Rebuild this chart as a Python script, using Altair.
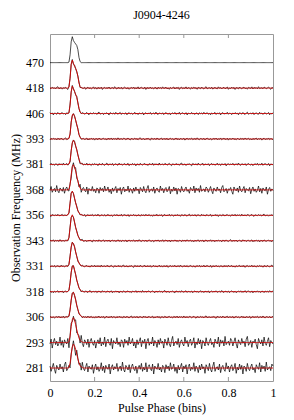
import altair as alt
import pandas as pd

FREQS = [281, 293, 306, 318, 331, 343, 356, 368, 381, 393, 406, 418, 470]
PEAKS = [0.94, 0.98, 0.98, 1.02, 0.94, 1.02, 0.95, 0.99, 0.95, 0.99, 1.08, 1.10, 1.02]
NOISE_AMP = [0.026, 0.027, 0.005, 0.005, 0.005, 0.005, 0.005, 0.019, 0.006, 0.005, 0.006, 0.006, 0.0]
NOISE_OFF = [0, 37, 74, 111, 148, 185, 22, 59, 96, 133, 170, 7, 0]
HAS_MODEL = [True] * 12 + [False]

SHAPE_START = 14  # first bin of the pulse window (phase 0.07)
SHAPES = [
    [0, 0, 0, 0.03, 0.2, 0.55, 0.88, 1.0, 0.93, 0.78, 0.58, 0.38, 0.21, 0.1, 0.05, 0.02, 0],
    [0, 0, 0, 0.04, 0.25, 0.65, 0.92, 1.0, 0.9, 0.72, 0.52, 0.34, 0.19, 0.09, 0.04, 0.02, 0],
    [0, 0, 0.01, 0.05, 0.28, 0.7, 0.95, 1.0, 0.88, 0.68, 0.48, 0.3, 0.16, 0.08, 0.03, 0.01, 0],
    [0, 0, 0.01, 0.06, 0.32, 0.75, 0.98, 1.0, 0.85, 0.65, 0.45, 0.28, 0.15, 0.07, 0.03, 0.01, 0],
    [0, 0, 0.01, 0.08, 0.4, 0.82, 1.0, 0.95, 0.8, 0.6, 0.4, 0.25, 0.13, 0.06, 0.03, 0.01, 0],
    [0, 0, 0.02, 0.12, 0.5, 0.9, 1.0, 0.9, 0.72, 0.52, 0.35, 0.21, 0.11, 0.05, 0.02, 0.01, 0],
    [0, 0, 0.02, 0.12, 0.5, 0.9, 1.0, 0.9, 0.72, 0.52, 0.34, 0.2, 0.1, 0.05, 0.02, 0.01, 0],
    [0, 0, 0, 0.03, 0.2, 0.6, 0.92, 1.0, 0.9, 0.75, 0.55, 0.35, 0.18, 0.07, 0.02, 0, 0],
    [0, 0, 0, 0.02, 0.15, 0.55, 0.9, 1.0, 0.92, 0.78, 0.6, 0.4, 0.2, 0.08, 0.03, 0.01, 0],
    [0, 0, 0, 0.02, 0.2, 0.65, 0.95, 1.0, 0.9, 0.75, 0.58, 0.38, 0.18, 0.06, 0.02, 0, 0],
    [0, 0, 0, 0.03, 0.3, 0.8, 1.0, 0.9, 0.8, 0.7, 0.58, 0.4, 0.18, 0.05, 0.01, 0, 0],
    [0, 0, 0, 0.03, 0.35, 0.85, 1.0, 0.88, 0.78, 0.7, 0.6, 0.42, 0.18, 0.05, 0.01, 0, 0],
    [0, 0, 0, 0.02, 0.3, 0.8, 1.0, 0.85, 0.78, 0.72, 0.66, 0.5, 0.2, 0.04, 0, 0, 0],
]

NOISE = [
    3, -5, 1, 7, -2, -8, 4, 0, -3, 6, -1, 2, -6, 5, 9, -4, -1, 3, -7, 2,
    0, 5, -3, -9, 6, 1, -2, 4, -5, 8, -1, -4, 2, 7, -6, 3, 0, -2, 5, -8,
    1, 6, -3, 2, -5, -1, 8, -4, 3, -7, 4, 0, -2, 6, -9, 1, 5, -3, 2, -1,
    7, -5, 0, 3, -4, 9, -2, -6, 4, 1, -3, 5, -7, 2, 6, -1, -4, 3, -8, 0,
    4, -2, 7, -5, 1, -3, 8, -6, 2, 5, -1, -4, 6, -9, 3, 0, -2, 7, -3, 1,
    -6, 4, 2, -7, 5, -1, 3, -4, 8, -2, 0, 6, -5, 1, -8, 4, -3, 2, 7, -6,
    3, -1, 5, -9, 2, 6, -4, 1, -2, 8, -5, 3, 0, -7, 4, -3, 6, -1, 2, -8,
    5, 1, -4, 7, -2, -6, 3, 9, -5, 0, 2, -3, 6, -7, 1, 4, -2, -5, 8, -1,
    3, -6, 2, 5, -4, 0, 7, -8, 1, -3, 6, -2, 4, -9, 3, 1, -5, 7, -1, -4,
    2, 6, -3, 0, -7, 5, 1, -2, 8, -6, 4, -1, 3, -5, 9, -3, 0, 2, -4, 6,
]
NBINS = 200
X_LABELS = [0, 0.2, 0.4, 0.6, 0.8, 1]
X_TICKS = [0.2, 0.4, 0.6, 0.8]

rows = []
for k, f in enumerate(FREQS):
    shape = SHAPES[k]
    for i in range(NBINS + 1):
        j = i - SHAPE_START
        s = shape[j] if 0 <= j < len(shape) else 0.0
        model = k + PEAKS[k] * s
        data = model + NOISE_AMP[k] * NOISE[(i + NOISE_OFF[k]) % NBINS]
        rows.append({"phase": i / NBINS, "ch": k, "kind": "data", "y": data})
        if HAS_MODEL[k]:
            rows.append({"phase": i / NBINS, "ch": k, "kind": "model", "y": model})
df = pd.DataFrame(rows)
label_df = pd.DataFrame({"y": list(range(len(FREQS))), "freq": [str(f) for f in FREQS]})

W, H = 223, 347
FONT = "Liberation Serif"

xscale = alt.Scale(domain=[0, 1], nice=False)
yscale = alt.Scale(domain=[-0.51, 13.125], nice=False, zero=False)

x_enc = alt.X("phase:Q", scale=xscale,
              axis=alt.Axis(values=X_LABELS, format="~g",
                            title="Pulse Phase (bins)", ticks=False, domain=False,
                            grid=False, labelPadding=6, titlePadding=4,
                            labelOverlap=False, labelFlush=False))
y_enc = alt.Y("y:Q", scale=yscale,
              axis=alt.Axis(values=list(range(len(FREQS))), labels=False,
                            title="Observation Frequency (MHz)", ticks=False,
                            domain=False, grid=False, titlePadding=28))

base = alt.Chart(df)

data_line = base.transform_filter("datum.kind == 'data'").mark_line(
    color="black", strokeWidth=0.7).encode(x=x_enc, y=y_enc, detail="ch:N")

model_line = base.transform_filter("datum.kind == 'model'").mark_line(
    color="#d10000", strokeWidth=0.9).encode(
    x=alt.X("phase:Q", scale=xscale), y=alt.Y("y:Q", scale=yscale), detail="ch:N")

freq_labels = alt.Chart(label_df).mark_text(
    font=FONT, fontSize=12, align="right", baseline="middle", color="black", dx=-6
).encode(x=alt.value(0), y=alt.Y("y:Q", scale=yscale), text="freq:N")

tick_df = pd.DataFrame({"phase": X_TICKS})
top_ticks = alt.Chart(tick_df).mark_rule(color="#999999", strokeWidth=1).encode(
    x=alt.X("phase:Q", scale=xscale), y=alt.value(0), y2=alt.value(4))
bot_ticks = alt.Chart(tick_df).mark_rule(color="#999999", strokeWidth=1).encode(
    x=alt.X("phase:Q", scale=xscale), y=alt.value(H), y2=alt.value(H - 4))

chart = alt.layer(data_line, model_line, top_ticks, bot_ticks, freq_labels).properties(
    width=W, height=H,
    background="white",
    title=alt.TitleParams("J0904-4246", font=FONT, fontSize=12, fontWeight="normal",
                          anchor="middle", offset=12, color="black"),
    autosize=alt.AutoSizeParams(type="none"),
    padding={"left": 42, "top": 26, "right": 13, "bottom": 34},
).configure_view(stroke="#999999", strokeWidth=1).configure_axis(
    labelFont=FONT, titleFont=FONT, labelFontSize=12, titleFontSize=12,
    titleFontWeight="normal", labelColor="black", titleColor="black",
    labelOverlap=False,
)

chart.save("out.html", embed_options={"renderer": "svg", "actions": False})
